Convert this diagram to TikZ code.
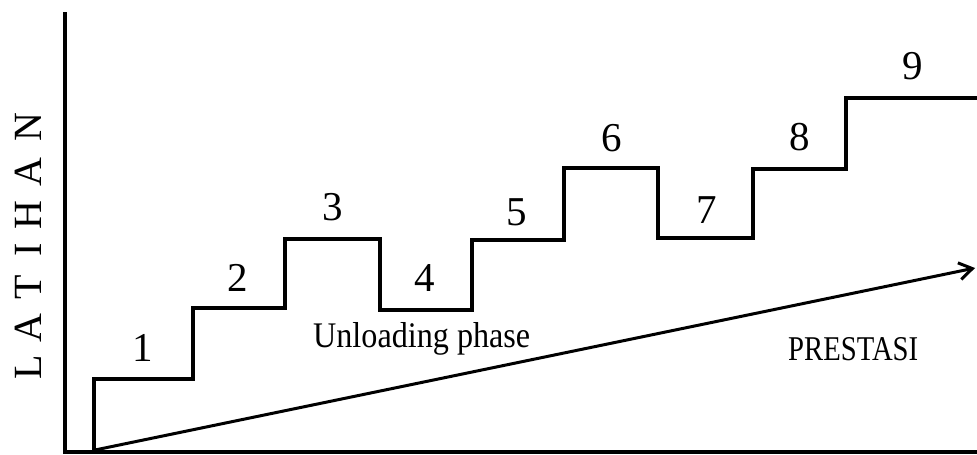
\documentclass[tikz,border=0pt]{standalone}
\usepackage{fontspec}
\setmainfont{Liberation Serif}
\usetikzlibrary{arrows.meta}
\begin{document}
\begin{tikzpicture}[x=1pt,y=-1pt,
  axisline/.style={line width=3.2pt},
  stairline/.style={line width=4.4pt,line join=miter},
  trendline/.style={line width=3pt,-{Straight Barb[length=13pt,width=17pt,line width=3pt]}},
  stepnum/.style={inner sep=0pt,font=\fontsize{41}{41}\selectfont},
  axisletter/.style={inner sep=0pt,rotate=90,font=\fontsize{40}{40}\selectfont},
  caption/.style={inner sep=0pt,anchor=base west}]
\useasboundingbox (0,0) rectangle (977,455);

% axes
\coordinate (ytop) at (65,12);
\coordinate (orig) at (65,452);
\coordinate (xend) at (977,452);
\draw[axisline] (ytop) -- (orig) -- (xend);

% training staircase
\draw[stairline]
  (94,452) |- (193,379) |- (285,308) |- (380,239)
  -- (380,310) -- (472,310) |- (564,240) |- (658,168)
  -- (658,238) -- (753,238) |- (846,169) |- (977,98);

% performance trend
\coordinate (tstart) at (95,450);
\coordinate (tend) at (975,268);
\draw[trendline] (tstart) -- (tend);

% step numbers
\node[stepnum] (n1) at (143,348) {1};
\node[stepnum] (n2) at (238,278) {2};
\node[stepnum] (n3) at (333,207) {3};
\node[stepnum] (n4) at (425,278) {4};
\node[stepnum] (n5) at (517,212) {5};
\node[stepnum] (n6) at (612,138) {6};
\node[stepnum] (n7) at (707,210) {7};
\node[stepnum] (n8) at (800,137) {8};
\node[stepnum] (n9) at (913,66) {9};

% labels
\node[caption] (unload) at (313,347) {\resizebox{217pt}{25pt}{Unloading phase}};
\node[caption] (prestasi) at (788,360) {\resizebox{130pt}{23pt}{PRESTASI}};

% vertical axis title, spaced letters
\node[axisletter] (l1) at (28,367) {L};
\node[axisletter] (l2) at (28,328) {A};
\node[axisletter] (l3) at (28,287) {T};
\node[axisletter] (l4) at (28,250) {I};
\node[axisletter] (l5) at (28,215) {H};
\node[axisletter] (l6) at (28,172) {A};
\node[axisletter] (l7) at (28,127) {N};
\end{tikzpicture}
\end{document}
